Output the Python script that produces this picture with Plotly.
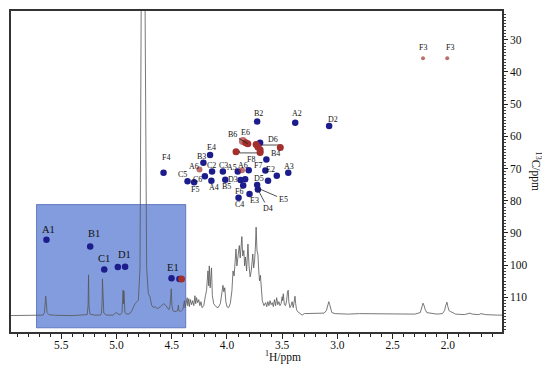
import plotly.graph_objects as go

# ---------------- data ----------------
# 1D 1H spectrum trace (ppm, intensity above baseline, arbitrary units)
spec_ppm = [5.97, 5.70, 5.665, 5.652, 5.646, 5.641, 5.636, 5.628, 5.61, 5.55, 5.40, 5.30, 5.265, 5.257, 5.253,
            5.249, 5.240, 5.20, 5.145, 5.136, 5.130, 5.127, 5.123, 5.115, 5.09, 5.03, 5.012, 5.000, 4.985,
            4.965, 4.950, 4.943, 4.940, 4.937, 4.934, 4.931, 4.924, 4.905, 4.88, 4.86, 4.845, 4.832, 4.815,
            4.802, 4.787, 4.772, 4.747, 4.727, 4.712, 4.697, 4.682, 4.665, 4.65, 4.63, 4.60, 4.575, 4.56,
            4.54, 4.525, 4.515, 4.510, 4.507, 4.504, 4.498, 4.49, 4.47, 4.445, 4.44, 4.435, 4.42, 4.40,
            4.385, 4.38, 4.37, 4.36, 4.355, 4.345, 4.34, 4.33, 4.32, 4.31, 4.30, 4.29, 4.283, 4.275, 4.265,
            4.255, 4.245, 4.235, 4.225, 4.21, 4.195, 4.185, 4.172, 4.165, 4.16, 4.152, 4.145, 4.14, 4.132,
            4.12, 4.10, 4.08, 4.06, 4.045, 4.036, 4.028, 4.02, 4.01, 4.00, 3.985, 3.97, 3.955, 3.945, 3.935,
            3.925, 3.918, 3.91, 3.90, 3.888, 3.88, 3.872, 3.865, 3.857, 3.847, 3.84, 3.832, 3.822, 3.81,
            3.80, 3.79, 3.78, 3.766, 3.758, 3.75, 3.742, 3.736, 3.728, 3.72, 3.712, 3.705, 3.697, 3.69,
            3.68, 3.665, 3.65, 3.64, 3.63, 3.62, 3.61, 3.60, 3.59, 3.58, 3.57, 3.56, 3.55, 3.54, 3.53, 3.52,
            3.51, 3.50, 3.495, 3.49, 3.48, 3.47, 3.46, 3.452, 3.445, 3.44, 3.43, 3.42, 3.41, 3.40, 3.39,
            3.384, 3.378, 3.37, 3.36, 3.35, 3.33, 3.32, 3.30, 3.20, 3.12, 3.10, 3.085, 3.078, 3.07, 3.06,
            3.05, 3.02, 2.90, 2.80, 2.60, 2.40, 2.30, 2.25, 2.235, 2.225, 2.215, 2.205, 2.19, 2.15, 2.10,
            2.05, 2.03, 2.02, 2.008, 2.0, 1.99, 1.975, 1.96, 1.93, 1.85, 1.82, 1.80, 1.78, 1.72, 1.70, 1.66,
            1.55, 1.51]
spec_int = [0, 0, 0.5, 3, 14, 19.5, 14, 3, 0.8, 0.3, 0, 0.3, 1, 10, 41,
            10, 1.5, 0.5, 0.5, 2.5, 14, 37, 14, 2.5, 0.5, 0.5, 2.5, 3, 1.5,
            1, 3, 24, 25.5, 12, 25, 23, 3, 1.5, 2, 5, 9, 12, 14,
            15.5, 48, 420, 420, 48, 22, 19, 10.5, 8, 9, 7, 9, 12, 11,
            8, 6, 10, 26, 20, 27, 10, 5, 4, 5, 10.5, 5, 4, 6,
            15, 8, 12, 18, 10, 17, 9, 16, 11, 15, 10, 20, 12, 18, 13,
            16, 10, 14, 8, 10, 20, 25, 45, 30, 50, 28, 40, 48, 20,
            12, 9, 8, 12, 25, 30.5, 24, 28, 14, 9, 8, 12, 25, 45, 40,
            60, 67, 50, 62, 70.5, 58, 68, 79.5, 60, 65.5, 50, 59, 45, 72,
            50, 39, 45, 62, 48, 55, 70, 89, 65, 62, 45, 35, 40.5, 25,
            15, 10, 13, 9, 14, 10, 15, 11, 13, 9, 16, 10, 18, 11, 14, 10,
            12, 19, 15, 22, 11, 10, 15, 24, 25.5, 14, 8, 10, 14, 8, 17,
            19.5, 12, 6, 4, 3, 1.5, 0.5, 2, 2, 2.5, 5, 12, 14, 11, 6,
            3, 2, 1.5, 2, 1.5, 1, 1.5, 3, 9, 12.5, 10, 6, 3, 2, 1.5,
            2, 5, 10, 13.5, 9, 5, 4, 3, 1.5, 1, 2, 2.5, 1.5, 1, 2, 1,
            0.5, 0.5]

# 2D HSQC cross peaks (1H ppm, 13C ppm)
blue_names = ["A1", "B1", "C1", "D1", "E1", "B2", "A2", "D2", "E4", "B3", "C2", "C3", "A5", "F7",
              "E2", "A3", "F4", "C5", "F5", "C6", "A4", "B5", "D3", "D5", "F6", "C4", "E3", "B4"]
blue_h = [5.634, 5.238, 5.111, 4.922, 4.502, 3.727, 3.382, 3.075, 4.153, 4.213, 4.135, 4.037, 3.902, 3.652,
          3.549, 3.445, 4.574, 4.357, 4.297, 4.20, 4.141, 4.015, 3.877, 3.727, 3.853, 3.895, 3.796, 3.643]
blue_c = [92.1, 94.2, 101.4, 100.55, 104.1, 55.4, 55.8, 56.8, 65.8, 68.2, 70.9, 70.9, 70.9, 70.6,
          72.25, 71.3, 71.3, 73.95, 74.3, 72.4, 73.8, 73.5, 73.6, 75.1, 75.3, 79.1, 77.9, 67.2]
# unlabelled blue contours
extra_blue_h = [4.988, 4.43, 3.803, 3.835, 3.628, 3.72, 3.70]
extra_blue_c = [100.6, 104.3, 70.55, 73.3, 73.8, 76.5, 62.0]

red_names = ["A6", "A6", "F3", "F3", "E6"]
red_h = [4.249, 3.864, 2.225, 2.006, 3.856]
red_c = [70.3, 70.55, 35.7, 35.7, 61.45]
# unlabelled red contours (B6 / D6 / F8 group, E1 side peak)
extra_red_h = [3.83, 3.811, 3.736, 3.72, 3.70, 3.70, 3.918, 3.517, 4.411]
extra_red_c = [62.0, 62.3, 62.5, 63.3, 64.2, 65.0, 64.75, 63.5, 104.35]

# axis ticks
x_ticks = [5.5, 5.0, 4.5, 4.0, 3.5, 3.0, 2.5, 2.0]
y_ticks = [30, 40, 50, 60, 70, 80, 90, 100, 110]

# anomeric region box (1H range, 13C range)
box_h = [5.724, 4.373]
box_c = [81.2, 119.5]

# ---------------- label offsets (pixels) ----------------
label_off = {
    "A1": (2, -10), "B1": (4, -13), "C1": (0, -11), "D1": (-1, -12), "E1": (1, -11),
    "B2": (1, -8), "A2": (2, -9), "D2": (4, -7), "E4": (1, -8), "B3": (-2, -6),
    "C2": (-1, -6), "C3": (1, -6), "A5": (-6, -4), "F7": (-7, -5), "E2": (-6, -6),
    "A3": (1, -6), "F4": (2, -15), "C5": (-5, -7), "F5": (1, 7), "C6": (-7, 3),
    "A4": (3, 7), "B5": (1, 7), "D3": (-8, -1), "D5": (2, -6), "F6": (-4, 6),
    "C4": (1, 7), "E3": (5, 7), "B4": (9, -6),
}
red_off = [(-5, -3), (1, -5), (0, -11), (3, -11), (3, -9)]
big_labels = {"A1", "B1", "C1", "D1", "E1"}

SERIF = "Liberation Serif, Times New Roman, serif"
NAVY = "#1c1c8c"
RED = "#a3302c"

fig = go.Figure()

# 1D spectrum on hidden axis y (drawn below), HSQC on y2 (visible, right side)
fig.add_trace(go.Scatter(x=spec_ppm, y=spec_int, yaxis="y", mode="lines",
                         line=dict(color="#555555", width=0.8), hoverinfo="skip", showlegend=False))

# brackets for D6 and F8 groups
fig.add_trace(go.Scatter(x=[extra_red_h[4], extra_red_h[4], extra_red_h[7], extra_red_h[7]],
                         y=[62.2, 62.7, 62.7, 63.3], yaxis="y2", mode="lines",
                         line=dict(color="#222", width=0.8), hoverinfo="skip", showlegend=False))
fig.add_trace(go.Scatter(x=[3.886, 3.886, 3.675, 3.675], y=[64.5, 65.15, 65.15, 64.5], yaxis="y2",
                         mode="lines", line=dict(color="#222", width=0.8), hoverinfo="skip", showlegend=False))

fig.add_trace(go.Scatter(x=blue_h + extra_blue_h, y=blue_c + extra_blue_c, yaxis="y2", mode="markers",
                         marker=dict(color=NAVY, size=6.5, line=dict(width=0)), hoverinfo="skip",
                         showlegend=False))
fig.add_trace(go.Scatter(x=extra_red_h, y=extra_red_c, yaxis="y2", mode="markers",
                         marker=dict(color=RED, size=7, line=dict(width=0)), hoverinfo="skip",
                         showlegend=False))
fig.add_trace(go.Scatter(x=red_h, y=red_c, yaxis="y2", mode="markers",
                         marker=dict(color=RED, size=[6, 6, 4, 4, 8], line=dict(width=0)), hoverinfo="skip",
                         showlegend=False))

ann = []
for n, h, c in zip(blue_names, blue_h, blue_c):
    dx, dy = label_off[n]
    ann.append(dict(x=h, y=c, xref="x", yref="y2", text=n, showarrow=False, xshift=dx, yshift=-dy,
                    font=dict(family=SERIF, size=10.5 if n in big_labels else 8, color="#111")))
for n, h, c, (dx, dy) in zip(red_names, red_h, red_c, red_off):
    ann.append(dict(x=h, y=c, xref="x", yref="y2", text=n, showarrow=False, xshift=dx, yshift=-dy,
                    font=dict(family=SERIF, size=8, color="#111")))
# leader-line labels
for n, h, c, axp, ayp in [("B6", extra_red_h[1], extra_red_c[1], -15, -9),
                          ("D4", extra_blue_h[5], extra_blue_c[5], 10, 19),
                          ("E5", extra_blue_h[6], 76.4, 23, 10)]:
    ann.append(dict(x=h, y=c, xref="x", yref="y2", text=n, showarrow=True, ax=axp, ay=ayp,
                    arrowhead=0, arrowwidth=0.8, arrowcolor="#222", standoff=0,
                    font=dict(family=SERIF, size=8, color="#111")))
ann.append(dict(x=3.585, y=60.9, xref="x", yref="y2", text="D6", showarrow=False,
                font=dict(family=SERIF, size=8, color="#111")))
ann.append(dict(x=3.778, y=67.2, xref="x", yref="y2", text="F8", showarrow=False,
                font=dict(family=SERIF, size=8, color="#111")))
# axis titles
ann.append(dict(x=0.554, y=-0.077, xref="paper", yref="paper", text="<sup>1</sup>H/ppm", showarrow=False,
                font=dict(family=SERIF, size=11.5, color="#111"), yanchor="middle"))
ann.append(dict(x=1.069, y=0.5, xref="paper", yref="paper", text="<sup>13</sup>C/ppm", showarrow=False,
                textangle=90, font=dict(family=SERIF, size=11.5, color="#111"), xanchor="center"))

fig.update_layout(
    width=542, height=362,
    margin=dict(l=1, r=48, t=1, b=38),
    paper_bgcolor="white", plot_bgcolor="white",
    showlegend=False,
    annotations=ann,
    shapes=[dict(type="rect", xref="x", yref="y2", x0=box_h[0], x1=box_h[1], y0=box_c[0], y1=box_c[1],
                 fillcolor="rgba(55,95,200,0.62)", line=dict(color="rgba(50,80,170,0.8)", width=0.8),
                 layer="below")],
    xaxis=dict(range=[5.955, 1.51], tickvals=x_ticks, ticktext=[f"{v:.1f}" for v in x_ticks],
               ticks="outside", ticklen=5, tickwidth=1, tickcolor="#222", ticklabelstandoff=-4,
               minor=dict(dtick=0.1, ticks="outside", ticklen=3, tickcolor="#222"),
               showgrid=False, zeroline=False, showline=True, linecolor="#333", linewidth=1.6,
               mirror=True, tickfont=dict(family=SERIF, size=11.5, color="#111")),
    yaxis=dict(range=[-16.5, 306.5], visible=False, showgrid=False, zeroline=False, fixedrange=True),
    yaxis2=dict(overlaying="y", side="right", range=[120.8, 21.05], tickvals=y_ticks,
                ticks="outside", ticklen=4, tickwidth=1, tickcolor="#222",
                minor=dict(dtick=1, ticks="outside", ticklen=2, tickcolor="#444"),
                showgrid=False, zeroline=False, showline=True, linecolor="#333", linewidth=1.6,
                mirror=True, tickfont=dict(family=SERIF, size=11.5, color="#111")),
)

fig.write_html("out.html")
